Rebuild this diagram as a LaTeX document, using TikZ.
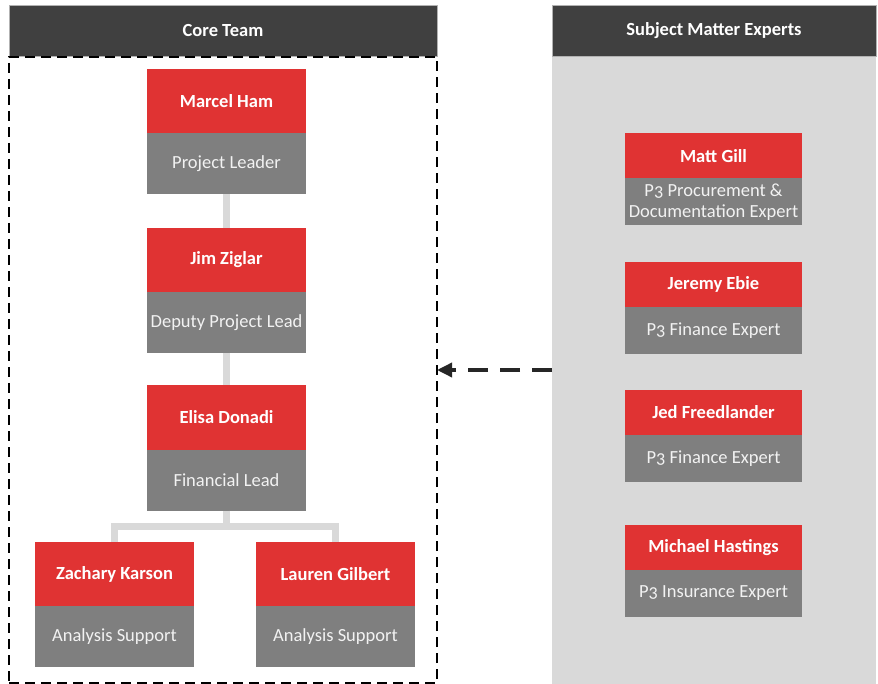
\documentclass[tikz,border=0pt]{standalone}
\usepackage{fontspec}
\setmainfont[Numbers=OldStyle]{Carlito}
\usetikzlibrary{positioning,arrows.meta}

\definecolor{teamred}{HTML}{E03333}
\definecolor{rolegray}{HTML}{7F7F7F}
\definecolor{headdark}{HTML}{404040}
\definecolor{panelgray}{HTML}{D9D9D9}
\definecolor{roletext}{HTML}{F2F2F2}

\begin{document}
\begin{tikzpicture}[x=1pt, y=-1pt,
		every node/.style={outer sep=0pt, inner sep=0pt, font=\fontsize{18.5}{21}\selectfont},
		header/.style={fill=headdark, draw=gray!60, text=white, font=\fontsize{18.5}{21}\selectfont\bfseries, minimum height=51pt},
		namebox/.style={fill=teamred, text=white, font=\fontsize{18.5}{21}\selectfont\bfseries, minimum width=159pt, minimum height=64pt},
		rolebox/.style={fill=rolegray, text=roletext, minimum width=159pt, minimum height=61pt, align=center},
		smename/.style={namebox, minimum width=177pt, minimum height=45pt},
		smerole/.style={rolebox, minimum width=177pt, minimum height=47pt},
		link/.style={draw=panelgray, line width=7pt}]

		\useasboundingbox (0, 0) rectangle (878, 684);

		\node[fill=panelgray, minimum width=324pt, minimum height=628pt] (smepanel) at (714, 370) {};
		\node[header, minimum width=324pt] (smehead) at (714, 30.5) {Subject Matter Experts};

		\node[header, minimum width=428pt] (corehead) at (223, 30.5) {Core Team};
		\node[draw, line width=2pt, dash pattern=on 10pt off 6pt, minimum width=428pt, minimum height=626pt] (coreframe) at (223, 370) {};


		\node[namebox] (marcel) at (226.5, 101.5) {Marcel Ham};
		\node[rolebox, below=0pt of marcel] (marcelrole) {Project Leader};

		\node[namebox] (jim) at (226.5, 260) {Jim Ziglar};
		\node[rolebox, below=0pt of jim] (jimrole) {Deputy Project Lead};

		\node[namebox] (elisa) at (226.5, 417.5) {Elisa Donadi};
		\node[rolebox, below=0pt of elisa] (elisarole) {Financial Lead};

		\node[namebox] (zachary) at (114.5, 574) {Zachary Karson};
		\node[rolebox, below=0pt of zachary] (zacharyrole) {Analysis Support};

		\node[namebox] (lauren) at (335.5, 574) {Lauren Gilbert};
		\node[rolebox, below=0pt of lauren] (laurenrole) {Analysis Support};


		\coordinate (fork) at (226.5, 526);

		\draw[link] (marcelrole) -- (jim);
		\draw[link] (jimrole) -- (elisa);
		\draw[link] (elisarole) -- (fork);
		\draw[link] (fork) -| (zachary);
		\draw[link] (fork) -| (lauren);


		\node[smename] (matt) at (713.5, 156) {Matt Gill};
		\node[smerole, below=0pt of matt] (mattrole) {P3 Procurement \&\\Documentation Expert};

		\node[smename] (jeremy) at (713.5, 284.5) {Jeremy Ebie};
		\node[smerole, below=0pt of jeremy] (jeremyrole) {P3 Finance Expert};

		\node[smename] (jed) at (713.5, 412.5) {Jed Freedlander};
		\node[smerole, below=0pt of jed] (jedrole) {P3 Finance Expert};

		\node[smename] (michael) at (713.5, 547.5) {Michael Hastings};
		\node[smerole, below=0pt of michael] (michaelrole) {P3 Insurance Expert};


		\draw[draw=black!85, line width=3.5pt, dash pattern=on 20pt off 12pt, -{Triangle[length=15pt, width=14pt]}] (smepanel.west) -- (coreframe.east);

	\end{tikzpicture}
\end{document}
